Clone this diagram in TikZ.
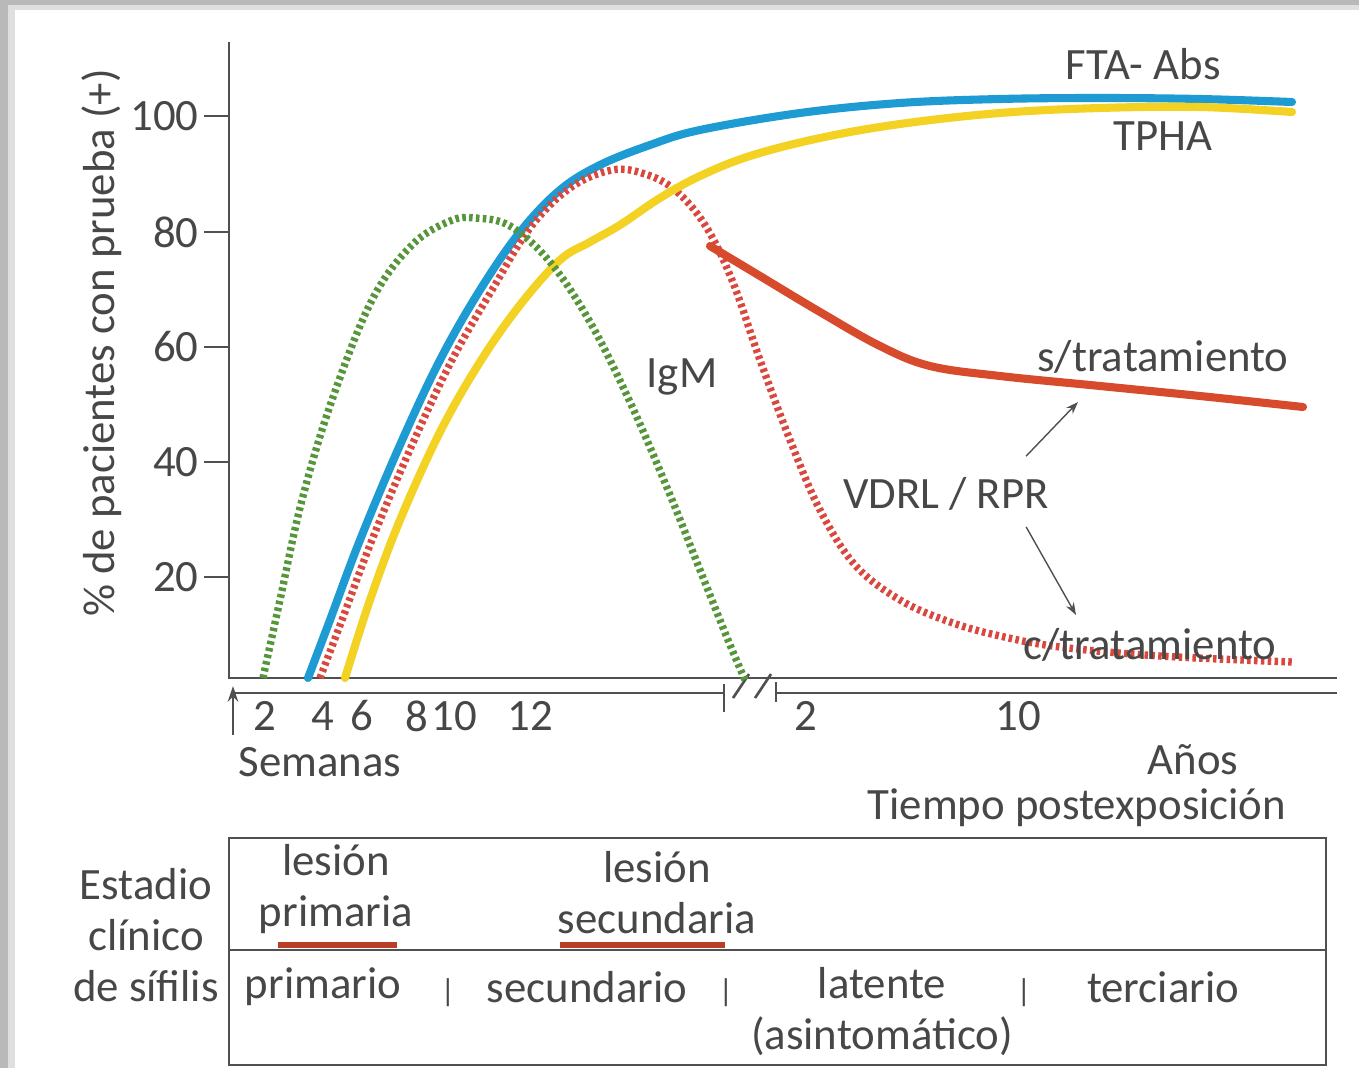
\documentclass[tikz,border=0pt]{standalone}
\usepackage{fontspec}
\setmainfont{Carlito}
\usetikzlibrary{arrows.meta}
\definecolor{ftablue}{HTML}{1E9BD2}
\definecolor{tphayellow}{HTML}{F3D223}
\definecolor{vdrlred}{HTML}{D84A2C}
\definecolor{dotred}{HTML}{D9473F}
\definecolor{igmgreen}{HTML}{55963A}
\definecolor{axisgray}{HTML}{505050}
\definecolor{txtgray}{HTML}{474747}
\newcommand{\lblfont}{\fontsize{25.5}{29}\selectfont}

\begin{document}
\begin{tikzpicture}[x=0.02cm,y=-0.02cm,
  axis/.style={draw=axisgray,line width=1.5pt},
  txt/.style={text=txtgray,font=\lblfont,inner sep=0pt},
  multi/.style={txt,align=center},
  bar/.style={txt,font=\fontsize{18}{18}\selectfont},
  solidcurve/.style={line width=4.6pt,line cap=round},
  dotcurve/.style={line width=4.2pt,dash pattern=on 2pt off 1.9pt},
  ptr/.style={draw=axisgray,line width=0.8pt,-{Stealth[length=7pt,width=5pt]}}]
\useasboundingbox (0,0) rectangle (1359,1068);
\fill[gray!55] (0,0) rectangle (1359,1068);
\fill[gray!25] (8,5) rectangle (1359,1068);
\fill[white] (15,10) rectangle (1359,1068);

% axes
\draw[axis] (229,42) -- (229,678) -- (1337,678);
\foreach \v/\py in {100/116,80/232,60/347,40/462,20/577}{
  \draw[axis] (204,\py) -- (229,\py);
  \node[txt,anchor=east] (y\v) at (199,\py) {\v};
}
\node[txt,rotate=90] (ylabel) at (102,343) {\% de pacientes con prueba (+)};

% time axis
\draw[axis,-{Stealth[length=9pt,width=6pt]}] (233,735) -- (233,686);
\draw[axis] (233,693) -- (724,693);
\draw[axis] (724,684) -- (724,712);
\draw[axis] (733,698) -- (749,674);
\draw[axis] (755,698) -- (771,674);
\draw[axis] (776,682) -- (776,702);
\draw[axis] (776,693) -- (1337,693);
\foreach \t/\px in {2/265,4/323,6/362,8/417,10/454,12/530}{
  \node[txt] (w\t) at (\px,716) {\t};
}
\node[txt] (a2) at (806,716) {2};
\node[txt] (a10) at (1018,716) {10};
\node[txt] (semanas) at (320,762) {Semanas};
\node[txt] (anos) at (1193,760) {Años};
\node[txt] (tiempo) at (1077,808) {Tiempo postexposición};

% curves
\draw[solidcurve,ftablue] plot[smooth,tension=0.6] coordinates {(308,678) (330,620) (360,540) (400,445) (440,360) (480,290) (520,232) (560,190) (600,165) (650,145) (700,130) (800,113) (900,103) (1000,99) (1100,98) (1200,99) (1292,102)};
\draw[dotcurve,dotred] plot[smooth,tension=0.6] coordinates {(320,678) (342,620) (372,540) (412,445) (452,360) (492,290) (530,228) (570,188) (612,170) (645,174) (675,190) (705,225) (732,280) (760,360) (790,440) (820,510) (855,565) (900,600) (950,622) (1000,636) (1060,647) (1160,656) (1292,662)};
\draw[solidcurve,tphayellow] plot[smooth,tension=0.6] coordinates {(345,678) (370,600) (400,520) (440,432) (480,362) (520,305) (560,260) (590,242) (620,225) (660,198) (700,176) (750,156) (820,138) (900,124) (1000,113) (1100,108) (1200,107) (1292,112)};
\draw[dotcurve,igmgreen] plot[smooth,tension=0.6] coordinates {(263,678) (280,600) (302,500) (332,400) (372,300) (412,245) (450,221) (475,218) (510,226) (550,262) (590,322) (630,402) (668,490) (700,570) (728,640) (745,680)};
\draw[solidcurve,vdrlred] plot[smooth,tension=0.6] coordinates {(710,246) (760,276) (820,312) (880,346) (930,366) (1000,376) (1100,386) (1200,396) (1303,407)};

% labels
\node[txt] (fta) at (1143,64) {FTA- Abs};
\node[txt] (tpha) at (1163,136) {TPHA};
\node[txt] (igm) at (682,377) {IgM};
\node[txt] (sinTrat) at (1163,357) {s/tratamiento};
\node[txt] (vdrl) at (946,494) {VDRL / RPR};
\node[txt] (conTrat) at (1150,645) {c/tratamiento};
\coordinate (sEnd) at (1078,402);
\coordinate (cEnd) at (1076,615);
\draw[ptr] ([shift={(-23,-21)}]vdrl.north east) -- (sEnd);
\draw[ptr] ([shift={(-23,16)}]vdrl.south east) -- (cEnd);

% clinical stage table
\draw[axis] (229,838) rectangle (1326,1065);
\draw[axis] (229,950) -- (1326,950);
\node[multi] (estadio) at (146,935) {Estadio\\clínico\\de sífilis};
\node[multi] (lesPrim) at (336,889) {lesión\\primaria};
\node[multi] (lesSec) at (657,893) {lesión\\secundaria};
\draw[vdrlred!85!black,line width=3.4pt] (278,945) -- (397,945);
\draw[vdrlred!85!black,line width=3.4pt] (560,945) -- (725,945);
\node[txt] (primario) at (323,987) {primario};
\node[bar] (sep1) at (448,993) {|};
\node[txt] (secundario) at (587,987) {secundario};
\node[bar] (sep2) at (726,993) {|};
\node[multi] (latente) at (882,1012) {latente\\(asintomático)};
\node[bar] (sep3) at (1024,993) {|};
\node[txt] (terciario) at (1163,987) {terciario};
\end{tikzpicture}
\end{document}
